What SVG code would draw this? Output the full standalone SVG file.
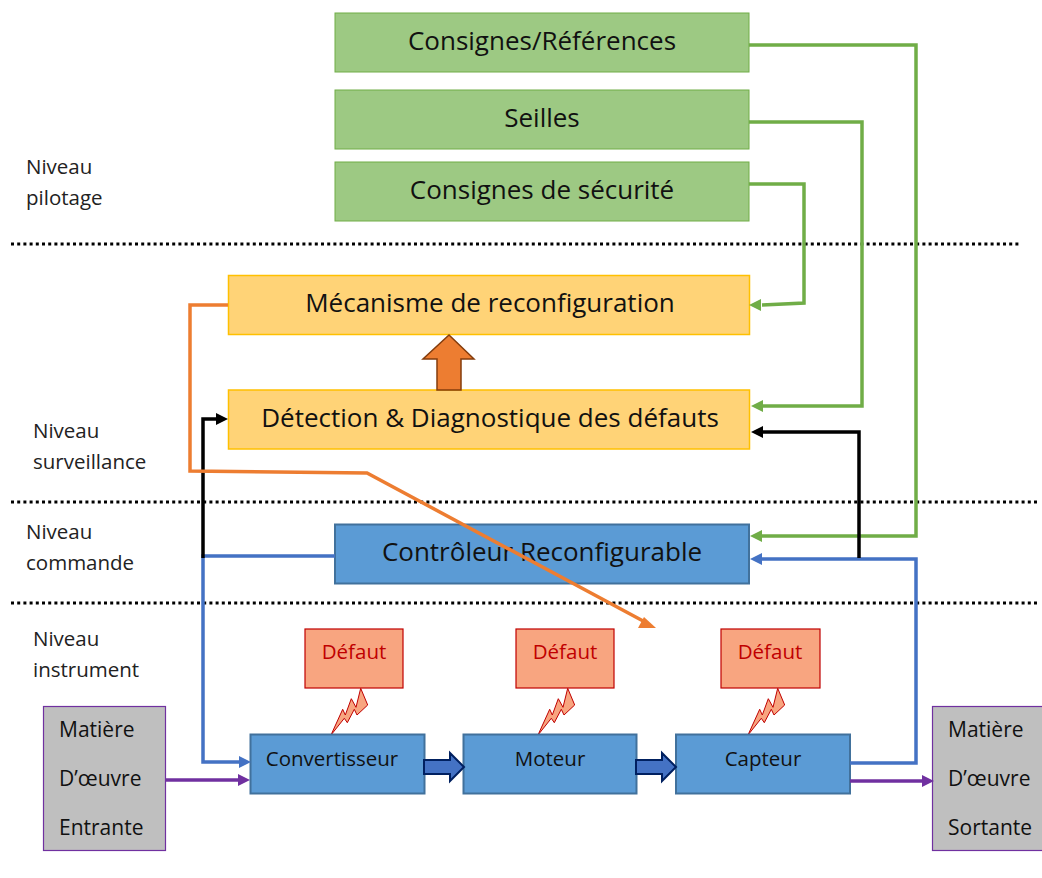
<svg xmlns="http://www.w3.org/2000/svg" width="1042" height="878" viewBox="0 0 1042 878">
<style>
text{font-family:"Open Sans","Noto Sans","Liberation Sans",sans-serif;fill:#111;text-anchor:middle}
.big{font-size:26px}
.mid{font-size:20.500px}
.mat{font-size:21px;text-anchor:start}
.lvl{font-size:20.500px;text-anchor:start;fill:#222}
.red{font-size:20.500px;fill:#c00000}
.g{fill:#9dc983;stroke:#70ad47;stroke-width:1}
.y{fill:#ffd377;stroke:#ffc000;stroke-width:1.5}
.b{fill:#5b9bd5;stroke:#41719c;stroke-width:2}
.d{fill:#f8a580;stroke:#c00000;stroke-width:1.2}
.m{fill:#bfbfbf;stroke:#7030a0;stroke-width:1.2}
.dot{fill:none;stroke:#000;stroke-width:3;stroke-dasharray:3 3.2}
.c{fill:none;stroke-width:3.500}
.cg{stroke:#70ad47}.cb{stroke:#4472c4}.ck{stroke:#000}.co{stroke:#ed7d31}.cp{stroke:#7030a0}
.ag{fill:#70ad47}.ab{fill:#4472c4}.ak{fill:#000}.ao{fill:#ed7d31}.ap{fill:#7030a0}
.bolt{fill:#f8a580;stroke:#c00000;stroke-width:1}
.fat{fill:#4472c4;stroke:#002060;stroke-width:2}
</style>
<defs>
<path id="bolt" d="M0 0L11.700-25.700 14.300-20 20.300-36.300 25-27.700 29.700-46.700 36.700-30 26-20 23.300-25.700 16.300-12.300 13.300-16.700z" class="bolt"/>
<path id="fat" d="M0-7H26V-14L40 0 26 14V7H0z" class="fat"/>
</defs>

<g id="dotted-lines">
<path class="dot" d="M11 244H1020"/>
<path class="dot" d="M11 502H1040"/>
<path class="dot" d="M11 603H1040"/>
</g>

<g id="n-consignes"><rect class="g" x="335" y="13" width="414" height="59"/><text class="big" x="542" y="50">Consignes/Références</text></g>
<g id="n-seuils"><rect class="g" x="335" y="90" width="414" height="59"/><text class="big" x="542" y="127">Seilles</text></g>
<g id="n-securite"><rect class="g" x="335" y="162" width="414" height="59"/><text class="big" x="542" y="199">Consignes de sécurité</text></g>
<g id="n-mecanisme"><rect class="y" x="228.500" y="275.500" width="521" height="59"/><text class="big" x="490" y="312">Mécanisme de reconfiguration</text></g>
<g id="n-detection"><rect class="y" x="228.500" y="390" width="521" height="59"/><text class="big" x="490" y="427">Détection &amp; Diagnostique des défauts</text></g>
<g id="n-fleche"><path d="M437 390V359H423L449 335L474 359H461V390z" fill="#ed7d31" stroke="#843c0c" stroke-width="1.500"/></g>
<g id="n-controleur"><rect class="b" x="335" y="524.500" width="414" height="59"/><text class="big" x="542" y="561">Contrôleur Reconfigurable</text></g>

<g id="n-defaut1"><rect class="d" x="305" y="629" width="98" height="59"/><text class="red" x="354" y="659">Défaut</text></g>
<g id="n-defaut2"><rect class="d" x="516" y="629" width="98" height="59"/><text class="red" x="565" y="659">Défaut</text></g>
<g id="n-defaut3"><rect class="d" x="721" y="629" width="99" height="59"/><text class="red" x="770" y="659">Défaut</text></g>
<use href="#bolt" x="331" y="735"/>
<use href="#bolt" x="538" y="735"/>
<use href="#bolt" x="748" y="735"/>

<g id="n-convertisseur"><rect class="b" x="250.500" y="734.500" width="174" height="59"/><text class="mid" x="332" y="766">Convertisseur</text></g>
<g id="n-moteur"><rect class="b" x="463.500" y="734.500" width="173" height="59"/><text class="mid" x="550" y="766">Moteur</text></g>
<g id="n-capteur"><rect class="b" x="676" y="734.500" width="174" height="59"/><text class="mid" x="763" y="766">Capteur</text></g>
<use href="#fat" x="424" y="767"/>
<use href="#fat" x="636" y="767"/>

<g id="n-entree"><rect class="m" x="43.500" y="706.500" width="122" height="144"/><text class="mat" x="59" y="737">Matière</text><text class="mat" x="59" y="786">D’œuvre</text><text class="mat" x="59" y="835">Entrante</text></g>
<g id="n-sortie"><rect class="m" x="932.500" y="706.500" width="122" height="144"/><text class="mat" x="948" y="737">Matière</text><text class="mat" x="948" y="786">D’œuvre</text><text class="mat" x="948" y="835">Sortante</text></g>

<g id="connectors">
<path class="c cg" d="M749 45H916V536H762"/><path class="ag" d="M750 536L762 530V542z"/>
<path class="c cg" d="M749 122H862V406H762"/><path class="ag" d="M751 406L763 400V412z"/>
<path class="c cg" d="M749 184H804V303L762 305"/><path class="ag" d="M749 305L761 299V311z"/>
<path class="c cb" d="M850 763H916V559H762"/><path class="ab" d="M750 559L762 553V565z"/>
<path class="c ck" d="M859 558V432H762"/><path class="ak" d="M751 432L763 426V438z"/>
<path class="c cb" d="M335 556H203V762H240"/><path class="ab" d="M251 762L239 756V768z"/>
<path class="c ck" d="M203 558V419H218"/><path class="ak" d="M228 419L216 413V425z"/>
<path class="c co" d="M228 305H190V471L367 473L645 622"/><path class="ao" d="M656 628L638 628L644 617z"/>
<path class="c cp" d="M166 780H240"/><path class="ap" d="M250 780L238 774V786z"/>
<path class="c cp" d="M850 781H922"/><path class="ap" d="M934 781L922 775V787z"/>
</g>

<g id="labels">
<text class="lvl" x="26" y="174">Niveau</text><text class="lvl" x="26" y="205">pilotage</text>
<text class="lvl" x="33" y="438">Niveau</text><text class="lvl" x="33" y="469">surveillance</text>
<text class="lvl" x="26" y="539">Niveau</text><text class="lvl" x="26" y="570">commande</text>
<text class="lvl" x="33" y="646">Niveau</text><text class="lvl" x="33" y="677">instrument</text>
</g>
</svg>
